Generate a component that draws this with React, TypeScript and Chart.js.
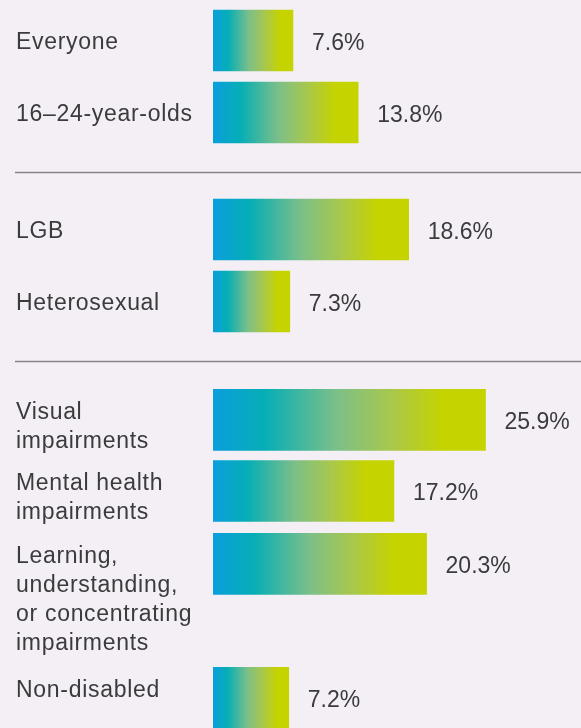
import React, { useEffect, useRef } from 'react';
import { Chart, registerables } from 'chart.js';

Chart.register(...registerables);

// ---- data ----
const categories: string[][] = [
  ['Everyone'],
  ['16–24-year-olds'],
  ['LGB'],
  ['Heterosexual'],
  ['Visual', 'impairments'],
  ['Mental health', 'impairments'],
  ['Learning,', 'understanding,', 'or concentrating', 'impairments'],
  ['Non-disabled'],
];
const values: number[] = [7.6, 13.8, 18.6, 7.3, 25.9, 17.2, 20.3, 7.2];
const valueLabels: string[] = ['7.6%', '13.8%', '18.6%', '7.3%', '25.9%', '17.2%', '20.3%', '7.2%'];

// ---- layout (row slots on the hidden vertical scale) ----
const ROW_SLOTS: number[] = [0, 1, 2.625, 3.625, 5.27, 6.257, 7.27, 9.13];
const SEPARATOR_SLOTS: number[] = [1.82, 4.45];
const LABEL_ALIGN: string[] = ['middle', 'middle', 'middle', 'middle', 'top', 'top', 'top', 'top'];

const BG = '#f3eff5';
const TEXT = '#3b3a3c';
const FONT = '23px "Liberation Sans", Arial, Helvetica, sans-serif';

export default function App() {
  const ref = useRef<HTMLCanvasElement>(null);

  useEffect(() => {
    document.body.style.margin = '0';
    document.body.style.background = BG;
    const canvas = ref.current!;

    const textPlugin = {
      id: 'rowText',
      beforeDraw(chart: any) {
        const c = chart.ctx;
        c.save();
        c.fillStyle = BG;
        c.fillRect(0, 0, chart.width, chart.height);
        c.restore();
      },
      afterDatasetsDraw(chart: any) {
        const c = chart.ctx as CanvasRenderingContext2D;
        const ys = chart.scales.y;
        const meta = chart.getDatasetMeta(0);
        c.save();
        // separators
        c.strokeStyle = '#86828a';
        c.lineWidth = 1.6;
        SEPARATOR_SLOTS.forEach((s) => {
          const py = Math.round(ys.getPixelForValue(s)) + 0.5;
          c.beginPath();
          c.moveTo(15, py);
          c.lineTo(chart.width, py);
          c.stroke();
        });
        c.fillStyle = TEXT;
        c.font = FONT;
        c.textBaseline = 'alphabetic';
        c.textAlign = 'left';
        const lh = 29;
        meta.data.forEach((el: any, i: number) => {
          const lines = categories[i];
          const top = el.y - el.height / 2;
          let first: number;
          if (LABEL_ALIGN[i] === 'top') first = top + 30;
          else first = el.y - ((lines.length - 1) * lh) / 2 + 9;
          (c as any).letterSpacing = '0.7px';
          lines.forEach((ln, k) => c.fillText(ln, 16, first + k * lh));
          (c as any).letterSpacing = '0px';
          c.fillText(valueLabels[i], el.x + 19, el.y + 9.3);
        });
        c.restore();
      },
    };

    const chart = new Chart(canvas, {
      type: 'bar',
      data: {
        labels: categories.map((l) => l.join(' ')),
        datasets: [
          {
            data: values.map((v, i) => ({ x: v, y: ROW_SLOTS[i] })) as any,
            barThickness: 61,
            borderWidth: 0,
            backgroundColor: (ctx: any) => {
              const chart = ctx.chart;
              const xs = chart.scales?.x;
              const v = ctx.parsed?.x ?? values[ctx.dataIndex];
              if (!xs || v == null) return '#c5d300';
              const x0 = xs.getPixelForValue(0);
              const x1 = xs.getPixelForValue(v);
              if (!isFinite(x0) || !isFinite(x1) || x1 <= x0) return '#c5d300';
              const g = chart.ctx.createLinearGradient(x0, 0, x1, 0);
              g.addColorStop(0, '#0a9edd');
              g.addColorStop(0.19, '#06aeb6');
              g.addColorStop(0.45, '#7bbf89');
              g.addColorStop(0.66, '#aac84a');
              g.addColorStop(0.84, '#c5d300');
              g.addColorStop(1, '#c5d300');
              return g;
            },
          },
        ],
      },
      options: {
        indexAxis: 'y',
        animation: false,
        responsive: false,
        devicePixelRatio: 1,
        layout: { padding: { left: 213, right: 0, top: 0, bottom: 0 } },
        scales: {
          x: { type: 'linear', min: 0, max: 34.98, display: false, offset: false },
          y: { type: 'linear', min: -0.5625, max: 9.549, reverse: true, display: false, offset: false },
        },
        plugins: {
          legend: { display: false },
          tooltip: { enabled: false },
        },
      },
      plugins: [textPlugin],
    } as any);

    return () => chart.destroy();
  }, []);

  return (
    <div style={{ width: 581, height: 728, background: BG }}>
      <canvas ref={ref} width={581} height={728} style={{ display: 'block', width: 581, height: 728 }} />
    </div>
  );
}
